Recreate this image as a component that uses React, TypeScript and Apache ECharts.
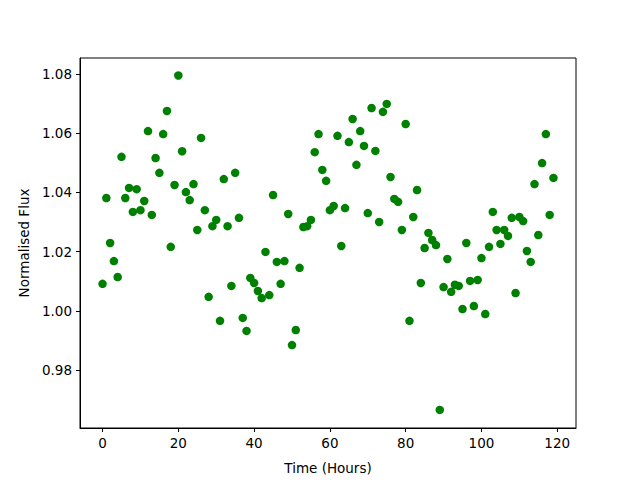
import React, { useEffect, useRef } from "react";
import * as echarts from "echarts";

const hours: number[] = Array.from({ length: 120 }, (_, i) => i);
const flux: number[] = [
  1.0091, 1.0381, 1.0229, 1.0168, 1.0114, 1.052, 1.0381, 1.0415, 1.0334, 1.0411,
  1.034, 1.0371, 1.0607, 1.0324, 1.0516, 1.0466, 1.0597, 1.0675, 1.0216, 1.0425,
  1.0795, 1.0539, 1.0401, 1.0374, 1.0428, 1.0273, 1.0584, 1.034, 1.0047, 1.0286,
  1.0307, 0.9966, 1.0445, 1.0286, 1.0084, 1.0466, 1.0314, 0.9976, 0.9932, 1.0111,
  1.0094, 1.0067, 1.0043, 1.0199, 1.0053, 1.0391, 1.0165, 1.0091, 1.0168, 1.0327,
  0.9884, 0.9935, 1.0145, 1.0283, 1.0286, 1.0307, 1.0536, 1.0597, 1.0476, 1.0439,
  1.034, 1.0354, 1.0591, 1.0219, 1.0347, 1.057, 1.0648, 1.0493, 1.0607, 1.0557,
  1.033, 1.0685, 1.054, 1.03, 1.0672, 1.0699, 1.0452, 1.0378, 1.0368, 1.0273,
  1.0631, 0.9966, 1.0317, 1.0408, 1.0094, 1.0212, 1.0263, 1.0239, 1.0222, 0.9665,
  1.008, 1.0175, 1.0064, 1.0088, 1.0084, 1.0006, 1.0229, 1.0101, 1.0016, 1.0104,
  1.0178, 0.9989, 1.0216, 1.0334, 1.0273, 1.0226, 1.0273, 1.0253, 1.0314, 1.006,
  1.0317, 1.0303, 1.0202, 1.0165, 1.0428, 1.0256, 1.0499, 1.0597, 1.0324, 1.0449,
];
const xTicks: number[] = [0, 20, 40, 60, 80, 100, 120];
const yTicks: number[] = [0.98, 1.0, 1.02, 1.04, 1.06, 1.08];

export default function App() {
  const ref = useRef<HTMLDivElement>(null);
  useEffect(() => {
    if (!ref.current) return;
    const chart = echarts.init(ref.current, null, { renderer: "svg" });
    const font = "DejaVu Sans";
    chart.setOption({
      animation: false,
      backgroundColor: "#ffffff",
      grid: {
        left: 80,
        top: 58,
        width: 496,
        height: 370,
        show: true,
        borderColor: "#000000",
        borderWidth: 1,
        backgroundColor: "transparent",
      },
      xAxis: {
        type: "value",
        min: -5.95,
        max: 124.95,
        name: "Time (Hours)",
        nameLocation: "middle",
        nameGap: 33,
        nameTextStyle: { color: "#000", fontFamily: font, fontSize: 13.5 },
        axisLine: { show: true, onZero: false, lineStyle: { color: "#000", width: 1 } },
        axisTick: {
          show: true,
          length: 4,
          lineStyle: { color: "#000" },
          customValues: xTicks,
        },
        axisLabel: {
          color: "#000",
          fontFamily: font,
          fontSize: 13.5,
          margin: 8,
          customValues: xTicks,
        },
        splitLine: { show: false },
      },
      yAxis: {
        type: "value",
        min: 0.9604,
        max: 1.0854,
        name: "Normalised Flux",
        nameLocation: "middle",
        nameGap: 46,
        nameTextStyle: { color: "#000", fontFamily: font, fontSize: 13.5 },
        axisLine: { show: true, onZero: false, lineStyle: { color: "#000", width: 1 } },
        axisTick: {
          show: true,
          length: 4,
          lineStyle: { color: "#000" },
          customValues: yTicks,
        },
        axisLabel: {
          color: "#000",
          fontFamily: font,
          fontSize: 13.5,
          margin: 8,
          customValues: yTicks,
          formatter: (v: number) => v.toFixed(2),
        },
        splitLine: { show: false },
      },
      series: [
        {
          type: "scatter",
          data: hours.map((h, i) => [h, flux[i]]),
          symbol: "circle",
          symbolSize: 8.5,
          itemStyle: { color: "#008000", opacity: 1 },
        },
      ],
    });
    return () => chart.dispose();
  }, []);
  return <div ref={ref} style={{ width: 640, height: 480, position: "absolute", left: 0, top: 0 }} />;
}
